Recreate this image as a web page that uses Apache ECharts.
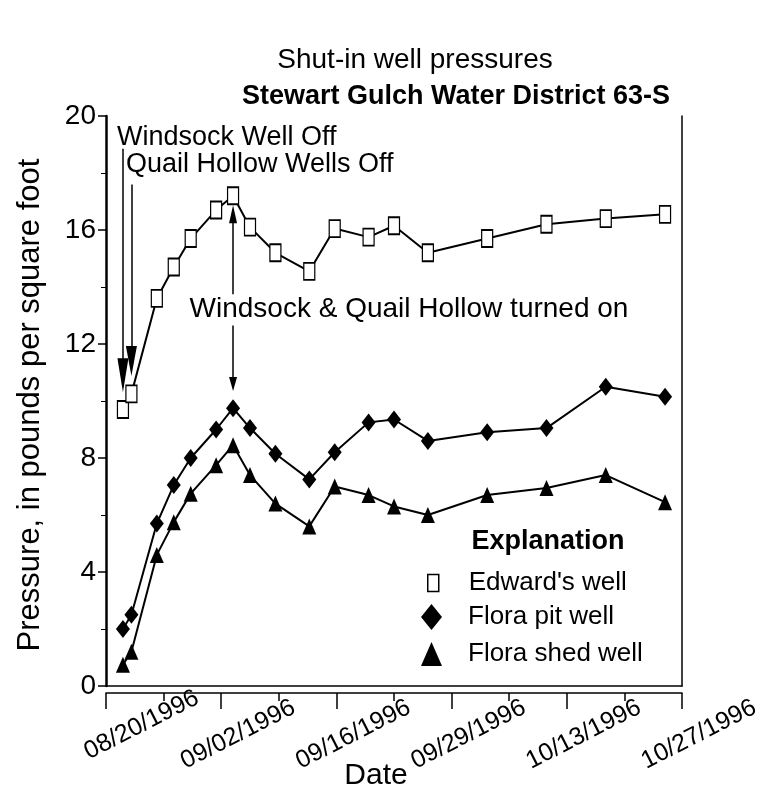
<!DOCTYPE html>
<html lang="en">
<head>
<meta charset="UTF-8">
<title>Shut-in well pressures</title>
<script src="https://cdn.jsdelivr.net/npm/echarts@6/dist/echarts.min.js"></script>
<style>html,body{margin:0;padding:0;background:#fff;}</style>
</head>
<body>
<div id="chart" style="width:760px;height:794px;"></div>
<script>
  // measurement dates and values (pressure, pounds per square foot)
  var dates = ['1996-08-22', '1996-08-23', '1996-08-26', '1996-08-28', '1996-08-30', '1996-09-02',
    '1996-09-04', '1996-09-06', '1996-09-09', '1996-09-13', '1996-09-16', '1996-09-20',
    '1996-09-23', '1996-09-27', '1996-10-04', '1996-10-11', '1996-10-18', '1996-10-25'];
  var edwards = [9.7, 10.25, 13.6, 14.7, 15.7, 16.7, 17.2, 16.1, 15.2, 14.55, 16.05, 15.75, 16.15, 15.2, 15.7, 16.2, 16.4, 16.55];
  var floraPit = [2.0, 2.5, 5.7, 7.05, 8.0, 9.0, 9.75, 9.05, 8.15, 7.25, 8.2, 9.25, 9.35, 8.6, 8.9, 9.05, 10.5, 10.15];
  var floraShed = [0.75, 1.2, 4.6, 5.75, 6.75, 7.75, 8.45, 7.4, 6.4, 5.6, 7.0, 6.7, 6.3, 6.0, 6.7, 6.95, 7.4, 6.45];
  var tickLabels = ['08/20/1996', '09/02/1996', '09/16/1996', '09/29/1996', '10/13/1996', '10/27/1996'];
  var yTicks = [0, 4, 8, 12, 16, 20];

  var startDate = '1996-08-20';
  var tickStep = 13.6;   // days between labelled ticks
  var dayMs = 86400000;
  function day(d) { return (Date.parse(d) - Date.parse(startDate)) / dayMs; }
  function pairs(vals) { return vals.map(function (v, i) { return [day(dates[i]), v]; }); }

  var font = '"Liberation Sans", Arial, sans-serif';
  var black = '#000';

  function arrow(d, from, to, size) {
    return [{ coord: [day(d), from], symbol: 'none' },
            { coord: [day(d), to], symbol: 'triangle', symbolSize: size }];
  }

  var chart = echarts.init(document.getElementById('chart'));
  var option = {
    animation: false,
    backgroundColor: '#fff',
    textStyle: { fontFamily: font, color: black },
    grid: { left: 106, right: 78, top: 116, bottom: 108, outerBoundsMode: 'none', containLabel: false },
    xAxis: [{
      type: 'value',
      min: 0,
      max: day('1996-10-27'),
      interval: tickStep,
      offset: 7,
      axisLine: { onZero: false, lineStyle: { color: black, width: 1.5 } },
      axisTick: { length: 16, lineStyle: { color: black, width: 1.5 } },
      minorTick: { show: true, splitNumber: 2, length: 8, lineStyle: { color: black, width: 1.5 } },
      splitLine: { show: false },
      axisLabel: {
        rotate: 27,
        align: 'center',
        verticalAlign: 'middle',
        margin: 50,
        padding: [0, 0, 0, 38],
        fontSize: 25,
        color: black,
        formatter: function (v) {
          var i = Math.round(v / tickStep);
          return i === 0 ? '{first|' + tickLabels[i] + '}' : tickLabels[i];
        },
        rich: { first: { fontSize: 25, color: black, padding: [0, 0, 0, 42] } }
      },
      name: 'Date',
      nameLocation: 'middle',
      nameGap: 68,
      nameMoveOverlap: false,
      nameTextStyle: { fontSize: 30, color: black, padding: [0, 36, 0, 0] }
    }, {
      type: 'value',
      position: 'bottom',
      min: 0,
      max: day('1996-10-27'),
      axisLine: { onZero: false, lineStyle: { color: black, width: 1.5 } },
      axisTick: { show: false },
      axisLabel: { show: false },
      splitLine: { show: false }
    }],
    yAxis: [{
      type: 'value',
      min: yTicks[0],
      max: yTicks[yTicks.length - 1],
      interval: yTicks[1] - yTicks[0],
      axisLine: { show: true, onZero: false, lineStyle: { color: black, width: 2.5 } },
      axisTick: { show: true, length: 8, lineStyle: { color: black, width: 1.5 } },
      minorTick: { show: true, splitNumber: 2, length: 5, lineStyle: { color: black, width: 1 } },
      splitLine: { show: false },
      axisLabel: { fontSize: 28, color: black, margin: 10 },
      name: 'Pressure, in pounds per square foot',
      nameLocation: 'middle',
      nameGap: 60,
      nameTextStyle: { fontSize: 31, color: black, padding: [0, 8, 0, 0] }
    }, {
      type: 'value',
      position: 'right',
      min: 0,
      max: 20,
      axisLine: { show: true, onZero: false, lineStyle: { color: black, width: 1.5 } },
      axisTick: { show: false },
      axisLabel: { show: false },
      splitLine: { show: false }
    }],
    legend: [{
      data: ["Edward's well"], icon: 'rect', orient: 'vertical', selectedMode: false,
      left: 422, top: 565, itemWidth: 11, itemHeight: 17,
      itemStyle: { color: '#fff', borderColor: black, borderWidth: 1.5 },
      textStyle: { fontSize: 26, color: black, padding: [0, 0, 0, 25] }
    }, {
      data: ['Flora pit well'], icon: 'diamond', orient: 'vertical', selectedMode: false,
      left: 416, top: 599, itemWidth: 21, itemHeight: 26,
      itemStyle: { color: black },
      textStyle: { fontSize: 26, color: black, padding: [0, 0, 0, 21] }
    }, {
      data: ['Flora shed well'], icon: 'triangle', orient: 'vertical', selectedMode: false,
      left: 416, top: 636, itemWidth: 21, itemHeight: 24,
      itemStyle: { color: black },
      textStyle: { fontSize: 26, color: black, padding: [0, 0, 0, 21] }
    }],
    graphic: [
      { type: 'text', x: 415, y: 60, style: { text: 'Shut-in well pressures', font: '28px ' + font, fill: black, align: 'center', verticalAlign: 'middle' } },
      { type: 'text', x: 456, y: 97, style: { text: 'Stewart Gulch Water District 63-S', font: 'bold 27px ' + font, fill: black, align: 'center', verticalAlign: 'middle' } },
      { type: 'text', x: 117, y: 138, style: { text: 'Windsock Well Off', font: '27px ' + font, fill: black, verticalAlign: 'middle' } },
      { type: 'text', x: 126, y: 165, style: { text: 'Quail Hollow Wells Off', font: '27px ' + font, fill: black, verticalAlign: 'middle' } },
      { type: 'text', x: 409, y: 309, style: { text: 'Windsock & Quail Hollow turned on', font: '28px ' + font, fill: black, align: 'center', verticalAlign: 'middle' } },
      { type: 'text', x: 548, y: 542, style: { text: 'Explanation', font: 'bold 27px ' + font, fill: black, align: 'center', verticalAlign: 'middle' } }
    ],
    series: [{
      name: "Edward's well",
      type: 'line',
      data: pairs(edwards),
      symbol: 'rect',
      symbolSize: [11, 17],
      itemStyle: { color: '#fff', borderColor: black, borderWidth: 1.5 },
      lineStyle: { color: black, width: 2 },
      z: 4,
      markLine: {
        silent: true,
        label: { show: false },
        lineStyle: { color: black, width: 1.5, type: 'solid' },
        data: [
          arrow('1996-08-22', 18.85, 10.9, [11, 34]),
          arrow('1996-08-23', 17.6, 11.4, [11, 30]),
          arrow('1996-09-04', 13.75, 16.55, [8, 18]),
          arrow('1996-09-04', 12.65, 10.6, [8, 14])
        ]
      }
    }, {
      name: 'Flora pit well',
      type: 'line',
      data: pairs(floraPit),
      symbol: 'diamond',
      symbolSize: [14, 18],
      itemStyle: { color: black },
      lineStyle: { color: black, width: 2 }
    }, {
      name: 'Flora shed well',
      type: 'line',
      data: pairs(floraShed),
      symbol: 'triangle',
      symbolSize: [14, 16],
      itemStyle: { color: black },
      lineStyle: { color: black, width: 2 }
    }]
  };
  chart.setOption(option);
</script>
</body>
</html>
